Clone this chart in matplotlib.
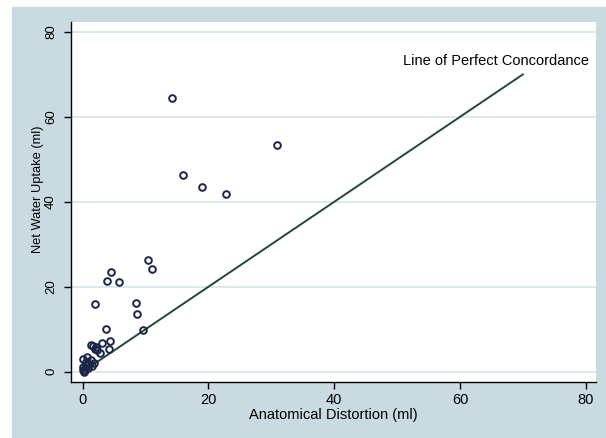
import matplotlib
matplotlib.use("Agg")
import matplotlib.pyplot as plt
from matplotlib.patches import Rectangle

# ── Data ──────────────────────────────────────────────────────────────────────
distortion = [14.2, 30.9, 16.0, 19.0, 22.8, 10.4, 11.0, 4.5, 3.8, 5.7,
              1.9, 8.5, 8.7, 9.6, 3.7, 4.3, 4.2, 3.0, 1.3, 1.7,
              2.1, 1.9, 2.3, 2.7,
              0.1, 0.7, 1.3, 0.0, 0.5, 1.0, 1.5, 0.3, 0.2, 0.8, 0.0, 0.6, 1.8]
uptake = [64.5, 53.5, 46.3, 43.4, 41.8, 26.2, 24.2, 23.4, 21.4, 21.2,
          15.9, 16.1, 13.7, 9.7, 10.0, 7.3, 5.4, 6.8, 6.4, 6.0,
          5.9, 5.3, 5.1, 4.3,
          2.9, 3.4, 2.8, 1.2, 1.6, 1.9, 1.4, 0.5, 0.0, 0.8, 0.3, 2.3, 2.0]
concordance = [0, 70]
ticks = [0, 20, 40, 60, 80]

plt.rcParams['font.family'] = ['Liberation Sans', 'DejaVu Sans']

bg = '#c9dbe0'
fig = plt.figure(figsize=(6.06, 4.38), dpi=100, facecolor='white')
fig.patches.append(Rectangle((12 / 606, 0), 1, (438 - 7) / 438,
                             transform=fig.transFigure, color=bg, zorder=-10))

ax = fig.add_axes([71 / 606, 56 / 438, 525 / 606, 360 / 438])
ax.set_facecolor('white')

ax.plot(concordance, concordance, color='#1f4a30', linewidth=1.4, zorder=2)
ax.plot(distortion, uptake, linestyle='none', marker='o', markersize=4.8,
        markerfacecolor='none', markeredgecolor='#1c2545', markeredgewidth=1.4,
        zorder=3)
ax.text(65.8, 72.2, 'Line of Perfect Concordance', ha='center', va='baseline',
        fontsize=10.5, color='black', clip_on=False)

ax.set_xlim(-1.86, 81.64)
ax.set_ylim(-2.43, 82.35)
ax.set_xticks(ticks)
ax.set_yticks(ticks)
ax.grid(axis='y', color='#d5e4e8', linewidth=1.2)
ax.set_axisbelow(True)

for side in ['top', 'right']:
    ax.spines[side].set_visible(False)
for side in ['left', 'bottom']:
    ax.spines[side].set_color('black')
    ax.spines[side].set_linewidth(1.0)

ax.tick_params(direction='out', length=5, width=1.0)
ax.tick_params(axis='x', labelsize=10.5, pad=3)
ax.tick_params(axis='y', labelsize=9.5, pad=5)
for lbl in ax.get_yticklabels():
    lbl.set_rotation(90)
    lbl.set_va('center')

ax.set_xlabel('Anatomical Distortion (ml)', fontsize=10.5, labelpad=1)
ax.set_ylabel('Net Water Uptake (ml)', fontsize=9.3)
ax.yaxis.set_label_coords(-0.052, 0.536)

fig.savefig('out.png', dpi=100, facecolor='white')
plt.close(fig)
